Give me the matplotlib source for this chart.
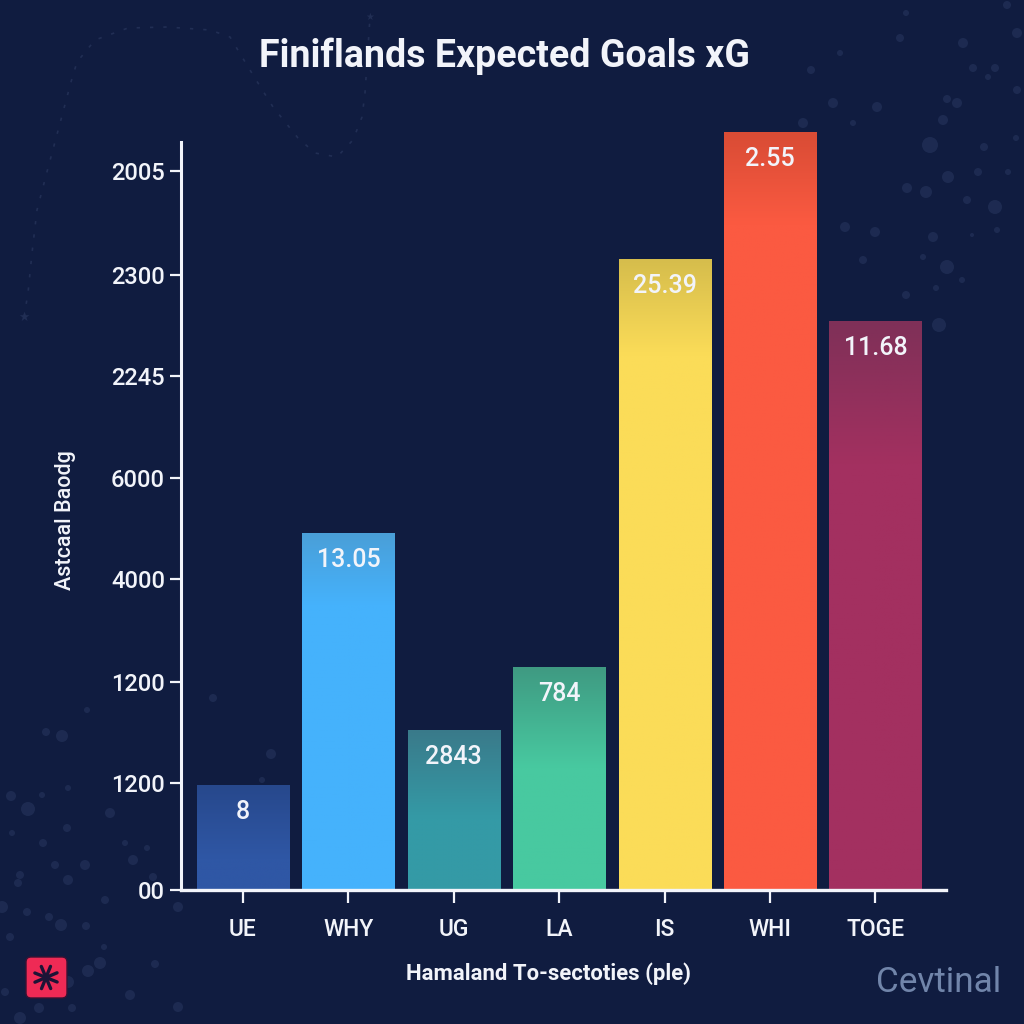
import matplotlib
matplotlib.use('Agg')
import matplotlib.pyplot as plt
from matplotlib.colors import LinearSegmentedColormap
from matplotlib.patches import FancyBboxPatch
import numpy as np

plt.rcParams['font.family'] = ['Roboto', 'DejaVu Sans']

categories = ['UE', 'WHY', 'UG', 'LA', 'IS', 'WHI', 'TOGE']
bar_heights = [105, 357, 160, 223, 631, 758, 569]
bar_labels = ['8', '13.05', '2843', '784', '25.39', '2.55', '11.68']
y_tick_pos = [0, 107, 208, 311, 412, 514, 615, 719]
y_tick_labels = ['00', '1200', '1200', '4000', '6000', '2245', '2300', '2005']

# top colour, colour further down, where the fade stops (0-1 from the top)
bar_fades = [
    ('#27488c', '#2f57a5', 0.7),
    ('#4a9fd8', '#45b2fc', 0.2),
    ('#3a7a8a', '#349aa6', 0.55),
    ('#3f9a82', '#48c9a0', 0.45),
    ('#d6bd4c', '#fbdc58', 0.15),
    ('#d94c35', '#fb5a41', 0.12),
    ('#7f3058', '#a33060', 0.25),
]

# faint specks in the background, figure pixels
specks = [
    (930, 145, 8), (948, 177, 6), (907, 188, 5), (926, 192, 6), (995, 207, 7), (947, 267, 7),
    (939, 325, 7), (933, 237, 5), (967, 200, 4), (978, 172, 4), (984, 147, 4), (957, 103, 5),
    (947, 99, 4), (833, 103, 5), (877, 107, 5), (963, 43, 5), (900, 38, 4), (995, 68, 4),
    (1017, 33, 5), (1017, 90, 4), (1007, 5, 4), (811, 70, 4), (840, 53, 3), (906, 13, 3),
    (973, 68, 4), (988, 77, 3), (943, 120, 5), (845, 227, 5), (875, 232, 5), (863, 260, 4),
    (906, 295, 4), (936, 288, 3), (923, 257, 3), (1008, 172, 3), (1016, 138, 3), (997, 230, 3),
    (972, 235, 2), (962, 280, 3), (803, 123, 5), (853, 123, 3),
    (62, 736, 6), (46, 732, 4), (28, 809, 7), (11, 796, 5), (42, 795, 3), (67, 828, 4),
    (110, 813, 5), (43, 843, 4), (12, 833, 3), (133, 860, 5), (55, 865, 4), (85, 865, 5),
    (68, 880, 5), (20, 875, 4), (18, 883, 4), (105, 900, 4), (27, 912, 4), (2, 907, 6),
    (49, 917, 4), (61, 925, 6), (86, 926, 4), (10, 937, 4), (104, 947, 3), (100, 963, 6),
    (88, 971, 6), (155, 964, 4), (178, 907, 5), (153, 877, 4), (125, 843, 3), (147, 848, 3),
    (178, 1007, 5), (72, 1008, 4), (39, 1008, 5), (20, 1018, 6), (5, 992, 4), (68, 982, 6),
    (130, 995, 5), (87, 710, 3), (68, 788, 3), (213, 698, 4), (271, 754, 5), (262, 780, 3),
]
# dotted trail top left, figure pixels
trail_x = [24, 28, 32, 37, 48, 59, 71, 77, 95, 128, 167, 210, 230, 253, 273, 298, 315, 337, 353, 362, 365, 370]
trail_y = [317, 293, 253, 210, 168, 127, 82, 62, 40, 28, 27, 30, 37, 75, 107, 138, 153, 157, 140, 117, 93, 17]

bg = '#101c40'
white = '#f2f4fa'

fig = plt.figure(figsize=(10.24, 10.24), dpi=100, facecolor=bg)

# background layer in pixel coords
back = fig.add_axes([0, 0, 1, 1], zorder=0)
back.set_xlim(0, 1024)
back.set_ylim(1024, 0)
back.axis('off')
for x, y, r in specks:
    back.add_patch(plt.Circle((x, y), r, color='#33436e', alpha=0.38, lw=0))
back.plot(trail_x, trail_y, color='#212e54', lw=1.2, ls=(0, (2, 6)))
back.text(24, 317, '\u2605', color='#212e54', fontsize=9, ha='center', va='center', family='DejaVu Sans')
back.text(370, 17, '\u2605', color='#212e54', fontsize=7, ha='center', va='center', family='DejaVu Sans')

# axes box: x 181-946, y 120-890 in pixels
ax = fig.add_axes([181 / 1024, 1 - 890 / 1024, 765 / 1024, 770 / 1024], zorder=1)
ax.patch.set_alpha(0)

xs = np.arange(len(categories))
bars = ax.bar(xs, bar_heights, width=0.873, color='none', linewidth=0)
for bar, (c1, c2, stop) in zip(bars, bar_fades):
    cmap = LinearSegmentedColormap.from_list('f', [(0, c1), (stop, c2), (1, c2)])
    grad = np.linspace(0, 1, 256).reshape(-1, 1)
    im = ax.imshow(grad, cmap=cmap, aspect='auto', vmin=0, vmax=1, zorder=2,
                   extent=[bar.get_x(), bar.get_x() + bar.get_width(), 0, bar.get_height()])
    im.set_clip_path(bar)
ax.set_xlim(-0.588, 6.67)
ax.set_ylim(0, 770)

for x, h, lab in zip(xs, bar_heights, bar_labels):
    ax.annotate(lab, (x, h), xytext=(0, -27), textcoords='offset pixels',
                ha='center', va='center', color=white, fontsize=18, fontweight='medium', zorder=3)

for s in ['top', 'right']:
    ax.spines[s].set_visible(False)
ax.spines['left'].set_bounds(0, 748)
ax.spines['left'].set_color(white)
ax.spines['bottom'].set_color(white)
ax.spines['left'].set_linewidth(2.2)
ax.spines['bottom'].set_linewidth(2.4)
ax.spines['left'].set_zorder(4)
ax.spines['bottom'].set_zorder(4)

ax.set_xticks(xs)
ax.set_xticklabels(categories)
ax.set_yticks(y_tick_pos)
ax.set_yticklabels(y_tick_labels)
ax.tick_params(axis='x', colors=white, length=9, width=1.6, pad=11, labelsize=16.5)
ax.tick_params(axis='y', colors=white, length=8, width=1.6, pad=3.5, labelsize=17)
for t in ax.get_xticklabels() + ax.get_yticklabels():
    t.set_fontweight('medium')

fig.text(504 / 1024, 1 - 56 / 1024, 'Finiflands Expected Goals xG', color=white, fontsize=27,
         fontweight='bold', ha='center', va='center')
fig.text(549 / 1024, 1 - 974 / 1024, 'Hamaland To-sectoties (ple)', color=white, fontsize=15.9,
         fontweight='bold', ha='center', va='center')
fig.text(65 / 1024, 1 - 520 / 1024, 'Astcaal Baodg', color=white, fontsize=15.5,
         fontweight='medium', rotation=90, ha='center', va='center')
fig.text(1001 / 1024, 1 - 983 / 1024, 'Cevtinal', color='#7185aa', fontsize=25.3,
         ha='right', va='center')

# logo
back.add_patch(FancyBboxPatch((30, 961), 33, 33, boxstyle='round,pad=4,rounding_size=5', fc='#ee2a55', ec='#3a1233', lw=1))
for a in np.radians(np.arange(0, 360, 45) + 22):
    back.plot([46, 46 + 12 * np.cos(a)], [977.5, 977.5 + 12 * np.sin(a)], color='#1c1436', lw=2.4, solid_capstyle='round')

fig.savefig('out.png', dpi=100, facecolor=bg)
